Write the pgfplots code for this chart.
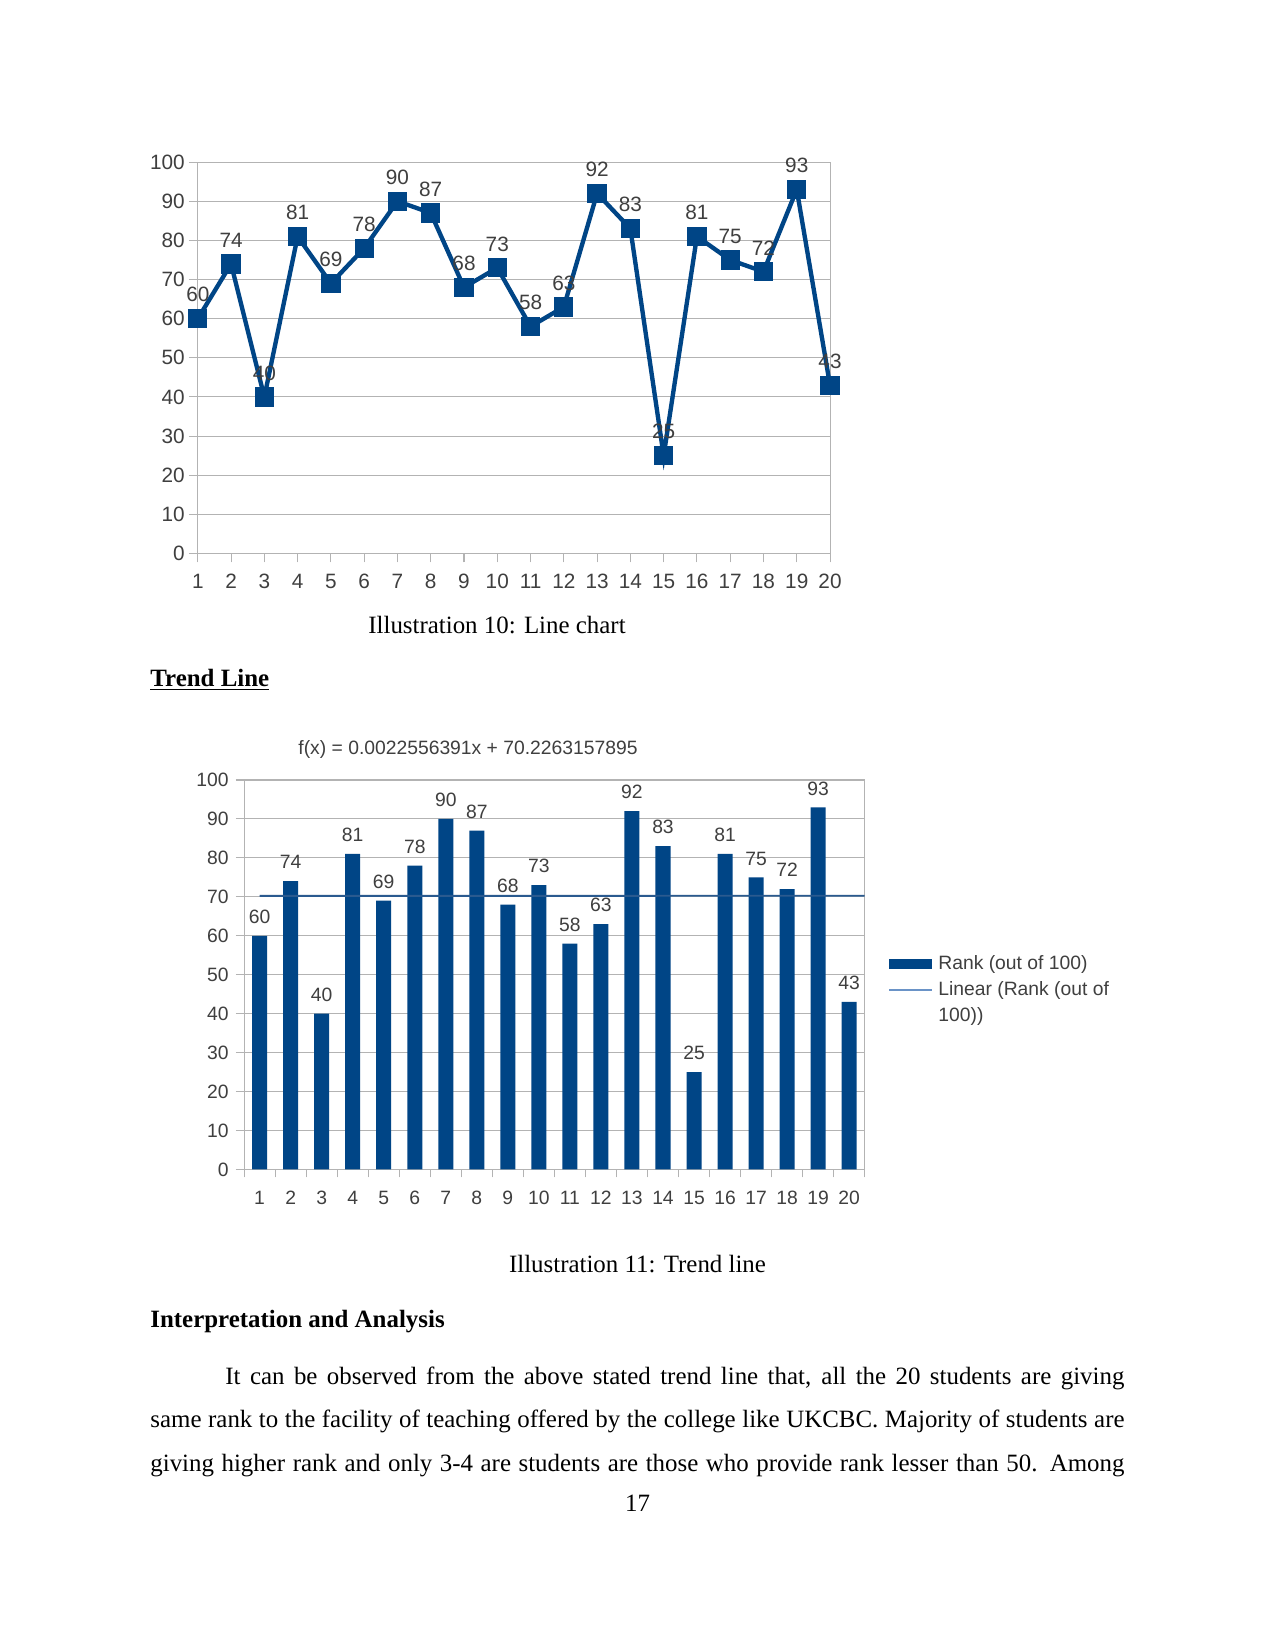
\documentclass[border=0pt]{standalone}
\usepackage{fontspec}
\setmainfont{Liberation Serif}
\newfontfamily\chartfont{Liberation Sans}
\usepackage{pgfplots}
\pgfplotsset{compat=1.18}
\definecolor{series}{HTML}{004586}
\definecolor{trendc}{HTML}{2A5A8F}
\definecolor{legline}{HTML}{6A93C7}
\definecolor{gridc}{HTML}{B3B3B3}
\definecolor{labc}{HTML}{3F3F3F}
\def\u{0.4818pt}
\begin{document}
\begin{tikzpicture}
\path[fill=white] (0,0) rectangle (1275*\u,-1650*\u);

% ---------- Line chart ----------
\begin{axis}[
  at={(95.3pt,-266.7pt)}, anchor=south west,
  scale only axis, width=304.6pt, height=188.6pt,
  xmin=1, xmax=20, ymin=0, ymax=100,
  xtick={1,...,20}, ytick={0,10,...,100},
  ymajorgrids, grid style={gridc, line width=0.5pt},
  axis line style={gridc, line width=0.5pt},
  tick style={gridc, line width=0.5pt},
  tick align=outside, major tick length=4.3pt, tick pos=left,
  tick label style={font=\chartfont\fontsize{10}{12}\selectfont, text=labc},
  xticklabel style={yshift=-2pt},
  yticklabel style={xshift=1.5pt},
  /pgf/number format/assume math mode=true,
  clip=false,
  nodes near coords,
  every node near coord/.append style={font=\chartfont\fontsize{10}{12}\selectfont, text=labc, anchor=center, yshift=11.5pt},
]
\addplot[series, line width=2.1pt, mark=square*, mark size=3.6pt, mark options={solid, fill=series}] coordinates {
(1,60) (2,74) (3,40) (4,81) (5,69) (6,78) (7,90) (8,87) (9,68) (10,73)
(11,58) (12,63) (13,92) (14,83) (15,25) (16,81) (17,75) (18,72) (19,93) (20,43)};
\end{axis}

\node[anchor=base, inner sep=0pt, font=\fontsize{12}{14}\selectfont] at (497*\u,-633*\u) {Illustration 10: Line chart};
\node[anchor=base west, inner sep=0pt, font=\fontsize{12}{14}\selectfont\bfseries] at (150*\u,-686*\u) {\underline{Trend Line}};

% ---------- Bar chart ----------
\node[anchor=west, inner sep=0pt, font=\chartfont\fontsize{9.3}{11}\selectfont, text=labc] at (298*\u,-749*\u) {f(x) = 0.0022556391x + 70.2263157895};
\begin{axis}[
  at={(117.6pt,-563.4pt)}, anchor=south west,
  scale only axis, width=299.0pt, height=187.6pt,
  xmin=0.5, xmax=20.5, ymin=0, ymax=100,
  xtick={1,...,20}, ytick={0,10,...,100},
  minor xtick={0.5,1.5,...,20.5},
  ymajorgrids, grid style={gridc, line width=0.5pt},
  axis line style={gridc, line width=0.5pt},
  tick style={gridc, line width=0.5pt},
  major x tick style={draw=none},
  tick align=outside, major tick length=3.9pt, minor tick length=3.9pt, tick pos=left,
  tick label style={font=\chartfont\fontsize{9.3}{11}\selectfont, text=labc},
  xticklabel style={yshift=-3pt},
  /pgf/number format/assume math mode=true,
  clip=false,
  legend style={at={(axis description cs:1,0.558)}, anchor=north west, xshift=11.2pt,
    draw=none, fill=none, inner sep=0pt, row sep=1.2pt,
    font=\chartfont\fontsize{9.3}{11}\selectfont, text=labc,
    nodes={inner sep=1.5pt}},
  legend cell align=left,
]
\addplot[ybar, bar width=7.23pt, fill=series, draw=none,
  nodes near coords,
  every node near coord/.append style={font=\chartfont\fontsize{9.3}{11}\selectfont, text=labc, anchor=center, yshift=9.1pt},
  legend image code/.code={\fill[series] (0pt,-2.4pt) rectangle (20.7pt,2.4pt);}]
 coordinates {
(1,60) (2,74) (3,40) (4,81) (5,69) (6,78) (7,90) (8,87) (9,68) (10,73)
(11,58) (12,63) (13,92) (14,83) (15,25) (16,81) (17,75) (18,72) (19,93) (20,43)};
\addlegendentry{\hspace{1.2pt}Rank (out of 100)}
\addplot[trendc, line width=0.9pt, no markers,
  legend image code/.code={\draw[color=legline, line width=0.7pt] (0pt,0pt) -- (20.7pt,0pt);}]
 coordinates {(1,70.2286) (20.5,70.2726)};
\addlegendentry{\hspace{1.2pt}Linear (Rank (out of}
\addlegendimage{empty legend}
\addlegendentry{\hspace{1.2pt}100))}
\end{axis}

\node[anchor=base, inner sep=0pt, font=\fontsize{12}{14}\selectfont] at (637.5*\u,-1272*\u) {Illustration 11: Trend line};
\node[anchor=base west, inner sep=0pt, font=\fontsize{12}{14}\selectfont\bfseries] at (150*\u,-1327*\u) {Interpretation and Analysis};

\node[anchor=base west, inner sep=0pt, font=\fontsize{12}{14}\selectfont] at (225*\u,-1384*\u) {\makebox[433.1pt][s]{It can be observed from the above stated trend line that, all the 20 students are giving}};
\node[anchor=base west, inner sep=0pt, font=\fontsize{12}{14}\selectfont] at (150*\u,-1427.5*\u) {\makebox[469.3pt][s]{same rank to the facility of teaching offered by the college like UKCBC. Majority of students are}};
\node[anchor=base west, inner sep=0pt, font=\fontsize{12}{14}\selectfont] at (150*\u,-1471*\u) {\makebox[469.3pt][s]{giving higher rank and only 3-4 are students are those who provide rank lesser than 50. Among}};
\node[anchor=base, inner sep=0pt, font=\fontsize{12}{14}\selectfont] at (637.5*\u,-1511.5*\u) {17};
\end{tikzpicture}
\end{document}
